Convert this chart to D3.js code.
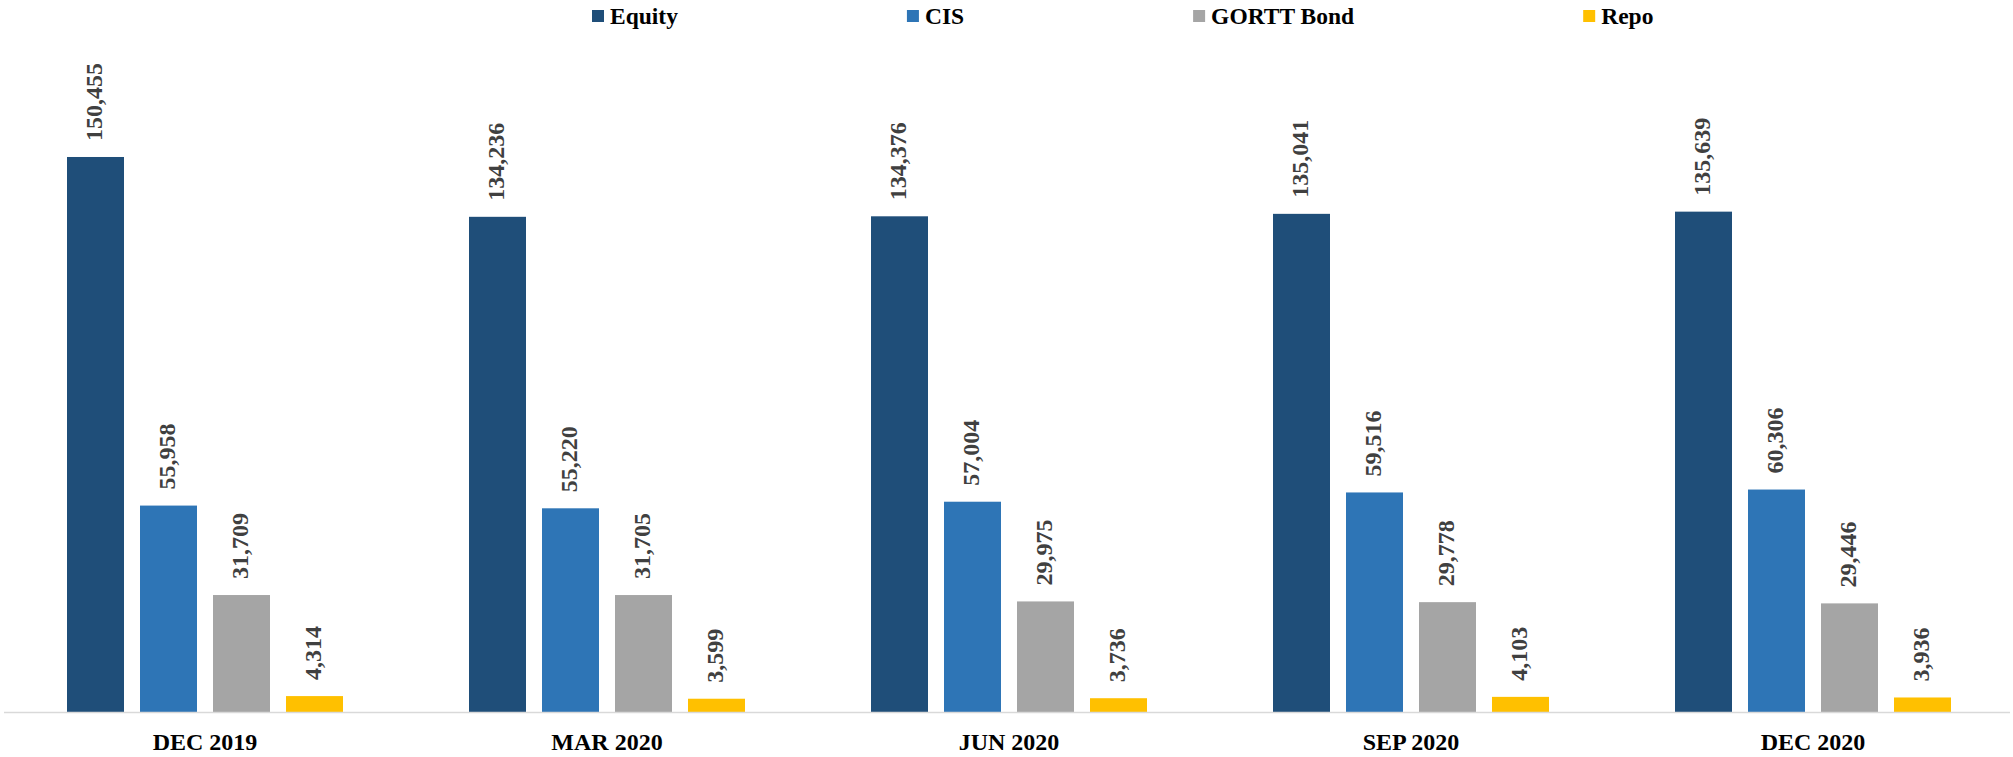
<!DOCTYPE html>
<html>
<head>
<meta charset="utf-8">
<script src="https://cdn.jsdelivr.net/npm/d3@7"></script>
<style>
  html, body { margin: 0; padding: 0; background: #fff; }
  svg { display: block; }
  text { font-family: "Liberation Serif", "Times New Roman", serif; font-weight: bold; }
</style>
</head>
<body>
<svg id="chart" width="2013" height="757"></svg>
<script>
const categories = ["DEC 2019", "MAR 2020", "JUN 2020", "SEP 2020", "DEC 2020"];
const seriesNames = ["Equity", "CIS", "GORTT Bond", "Repo"];
const equity = [150455, 134236, 134376, 135041, 135639];
const cis = [55958, 55220, 57004, 59516, 60306];
const gortt = [31709, 31705, 29975, 29778, 29446];
const repo = [4314, 3599, 3736, 4103, 3936];
const colors = ["#1F4E79", "#2E75B6", "#A5A5A5", "#FFC000"];

const seriesValues = [equity, cis, gortt, repo];

const svg = d3.select("#chart");
const fmt = d3.format(",");

const x0 = d3.scaleBand().domain(categories).range([4, 2014]);
const x1 = d3.scaleBand().domain(seriesNames).range([63, 339]).paddingInner(16 / 73);
const y = d3.scaleLinear().domain([0, 180000]).range([712, 48]);
const color = d3.scaleOrdinal().domain(seriesNames).range(colors);

const data = [];
categories.forEach((c, i) => {
  seriesNames.forEach((s, j) => {
    data.push({ cat: c, series: s, value: seriesValues[j][i] });
  });
});

// bars
const g = svg.append("g");
g.selectAll("rect.bar")
  .data(data)
  .join("rect")
  .attr("class", "bar")
  .attr("x", d => x0(d.cat) + x1(d.series))
  .attr("y", d => y(d.value))
  .attr("width", x1.bandwidth())
  .attr("height", d => y(0) - y(d.value))
  .attr("fill", d => color(d.series));

// value labels
g.selectAll("text.val")
  .data(data)
  .join("text")
  .attr("class", "val")
  .attr("transform", d => `translate(${x0(d.cat) + x1(d.series) + x1.bandwidth() / 2 - 2},${y(d.value) - 16}) rotate(-90)`)
  .attr("dy", "0.35em")
  .attr("text-anchor", "start")
  .attr("font-size", 24)
  .attr("fill", "#404040")
  .text(d => fmt(d.value));

// axis line
svg.append("line")
  .attr("x1", 4).attr("x2", 2010)
  .attr("y1", y(0) + 0.5).attr("y2", y(0) + 0.5)
  .attr("stroke", "#D9D9D9").attr("stroke-width", 1.5);

// category labels
svg.selectAll("text.cat")
  .data(categories)
  .join("text")
  .attr("class", "cat")
  .attr("x", d => x0(d) + x1.range()[0] + (x1.range()[1] - x1.range()[0]) / 2)
  .attr("y", 750)
  .attr("text-anchor", "middle")
  .attr("font-size", 24)
  .attr("fill", "#000")
  .text(d => d);

// legend
const legend = svg.append("g");
let lx = 592;
seriesNames.forEach(s => {
  legend.append("rect")
    .attr("x", lx).attr("y", 10)
    .attr("width", 12).attr("height", 12)
    .attr("fill", color(s));
  const t = legend.append("text")
    .attr("x", lx + 18).attr("y", 24)
    .attr("font-size", 23.5)
    .attr("fill", "#000")
    .text(s);
  const w = t.node().getComputedTextLength();
  lx = lx + 18 + w + 229;
});
</script>
</body>
</html>
